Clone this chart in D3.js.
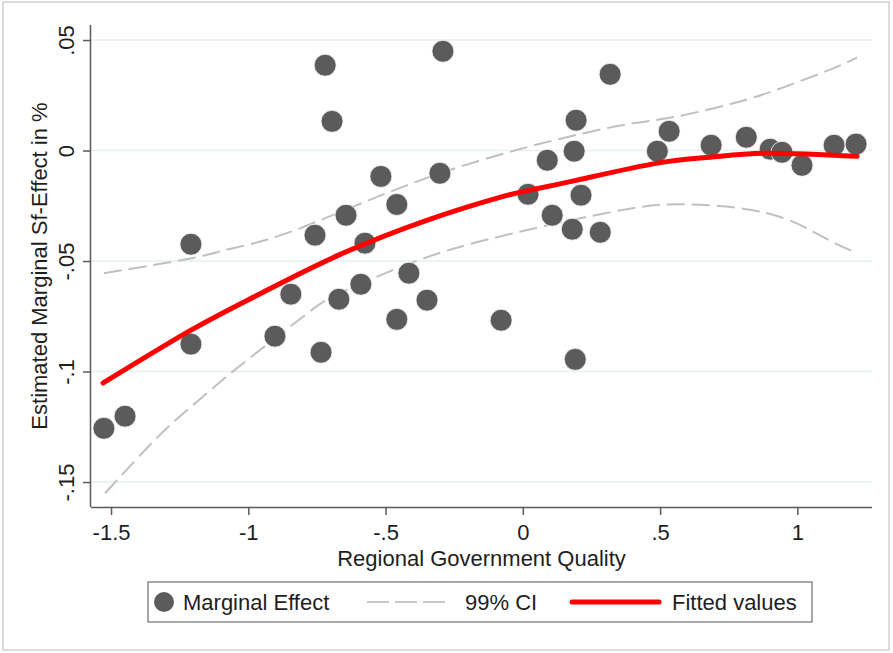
<!DOCTYPE html>
<html>
<head>
<meta charset="utf-8">
<script src="https://cdn.jsdelivr.net/npm/d3@7"></script>
<style>
  html, body { margin: 0; padding: 0; background: #fff; }
  svg { display: block; font-family: "Liberation Sans", Arial, sans-serif; }
</style>
</head>
<body>
<svg id="chart" width="893" height="653"></svg>
<script>
// ---- Data ----
const pointX = [-1.526,-1.449,-1.209,-1.209,-0.903,-0.845,-0.757,-0.735,-0.720,-0.695,
                -0.670,-0.644,-0.590,-0.575,-0.517,-0.459,-0.459,-0.415,-0.349,-0.302,
                -0.291,-0.079,0.019,0.089,0.107,0.180,0.187,0.194,0.191,0.212,
                0.282,0.318,0.490,0.533,0.686,0.814,0.901,0.944,1.017,1.134,1.214];
const pointY = [-0.1257,-0.1202,-0.0424,-0.0876,-0.0840,-0.0650,-0.0383,-0.0913,0.0386,0.0132,
                -0.0673,-0.0293,-0.0605,-0.0419,-0.0117,-0.0244,-0.0764,-0.0555,-0.0677,-0.0103,
                0.0449,-0.0768,-0.0198,-0.0044,-0.0293,-0.0356,-0.0003,0.0137,-0.0945,-0.0202,
                -0.0370,0.0345,-0.0003,0.0087,0.0024,0.0060,0.0006,-0.0008,-0.0067,0.0024,0.0029];

const fitX = [-1.529,-1.212,-0.968,-0.665,-0.337,-0.093,0.027,0.198,0.490,0.683,0.891,1.218];
const fitY = [-0.1052,-0.0815,-0.0655,-0.0470,-0.0310,-0.0215,-0.0179,-0.0134,-0.0057,-0.0030,-0.0012,-0.0026];

const ciUpX = [-1.526,-1.205,-1.056,-0.812,-0.301,0.271,0.526,0.767,0.949,1.131,1.218];
const ciUpY = [-0.0555,-0.0487,-0.0442,-0.0352,-0.0103,0.0092,0.0146,0.0214,0.0286,0.0372,0.0422];

const ciLoX = [-1.522,-1.332,-1.212,-1.092,-0.968,-0.786,-0.665,-0.399,-0.094,0.318,0.584,0.891,1.095,1.218];
const ciLoY = [-0.1551,-0.1299,-0.1163,-0.1036,-0.0913,-0.0738,-0.0645,-0.0505,-0.0392,-0.0279,-0.0243,-0.0284,-0.0392,-0.0465];

const xTicks = [-1.5,-1,-0.5,0,0.5,1];
const xTickLabels = ["-1.5","-1","-.5","0",".5","1"];
const yTicks = [-0.15,-0.1,-0.05,0,0.05];
const yTickLabels = ["-.15","-.1","-.05","0",".05"];

const legendLabels = ["Marginal Effect","99% CI","Fitted values"];
const xTitle = "Regional Government Quality";
const yTitle = "Estimated Marginal Sf-Effect in %";

// ---- Layout ----
const svg = d3.select("#chart");
const L = 91, R = 872, T = 25, B = 507;
const x = d3.scaleLinear().domain([-1.573, 1.272]).range([L, R]);
const y = d3.scaleLinear().domain([-0.1613, 0.0568]).range([B, T]);
const textColor = "#1e1e1e";
const axisColor = "#5a5a5a";
const fs = 22;

// outer frame
svg.append("rect").attr("x", 3).attr("y", 2).attr("width", 886).attr("height", 648)
  .attr("fill", "#fff").attr("stroke", "#cfcfcf").attr("stroke-width", 1.5);

// gridlines
svg.append("g").selectAll("line").data(yTicks).join("line")
  .attr("x1", L).attr("x2", R)
  .attr("y1", d => y(d)).attr("y2", d => y(d))
  .attr("stroke", "#e6eff1").attr("stroke-width", 1.5);

// CI lines
const line = (xs, ys, curve) => d3.line().curve(curve)
  .x((d, i) => x(xs[i])).y((d, i) => y(ys[i]))(xs);
svg.append("path").attr("d", line(ciUpX, ciUpY, d3.curveNatural))
  .attr("fill", "none").attr("stroke", "#c0c0c0").attr("stroke-width", 2)
  .attr("stroke-dasharray", "18,7");
svg.append("path").attr("d", line(ciLoX, ciLoY, d3.curveNatural))
  .attr("fill", "none").attr("stroke", "#c0c0c0").attr("stroke-width", 2)
  .attr("stroke-dasharray", "18,7");

// points
svg.append("g").selectAll("circle").data(pointX).join("circle")
  .attr("cx", (d) => x(d)).attr("cy", (d, i) => y(pointY[i]))
  .attr("r", 11).attr("fill", "#5b5b5b").attr("stroke", "#ffffff").attr("stroke-width", 0.8);

// fitted
svg.append("path").attr("d", line(fitX, fitY, d3.curveNatural))
  .attr("fill", "none").attr("stroke", "#ff0000").attr("stroke-width", 5)
  .attr("stroke-linecap", "round");

// axes
const xAxis = d3.axisBottom(x).tickValues(xTicks).tickSize(8).tickPadding(9)
  .tickFormat((d, i) => xTickLabels[i]);
const gx = svg.append("g").attr("transform", `translate(0,${B})`).call(xAxis);
gx.select(".domain").attr("d", `M${L},0.5H${R}`).attr("stroke", axisColor).attr("stroke-width", 1.5);
gx.selectAll(".tick line").attr("stroke", axisColor).attr("stroke-width", 1.5);
gx.selectAll(".tick text").attr("font-size", fs).attr("fill", textColor)
  .attr("font-family", "Liberation Sans, Arial, sans-serif");

const yAxis = d3.axisLeft(y).tickValues(yTicks).tickSize(8).tickPadding(0)
  .tickFormat((d, i) => yTickLabels[i]);
const gy = svg.append("g").attr("transform", `translate(${L},0)`).call(yAxis);
gy.select(".domain").attr("d", `M-0.5,${T}V${B}`).attr("stroke", axisColor).attr("stroke-width", 1.5);
gy.selectAll(".tick line").attr("stroke", axisColor).attr("stroke-width", 1.5);
gy.selectAll(".tick text").attr("font-size", fs).attr("fill", textColor)
  .attr("font-family", "Liberation Sans, Arial, sans-serif")
  .attr("x", null).attr("dy", null)
  .attr("text-anchor", "middle")
  .attr("transform", "translate(-17,0) rotate(-90)");

// axis titles
svg.append("text").attr("x", (L + R) / 2).attr("y", 566)
  .attr("text-anchor", "middle").attr("font-size", fs).attr("fill", textColor).text(xTitle);
svg.append("text").attr("transform", `translate(47,${(T + B) / 2}) rotate(-90)`)
  .attr("text-anchor", "middle").attr("font-size", fs).attr("fill", textColor).text(yTitle);

// legend
const lg = svg.append("g");
lg.append("rect").attr("x", 148).attr("y", 582).attr("width", 664).attr("height", 40)
  .attr("fill", "#fff").attr("stroke", "#6e6e6e").attr("stroke-width", 1.2);
const ly = 602;
lg.append("circle").attr("cx", 164).attr("cy", ly).attr("r", 10).attr("fill", "#5b5b5b");
lg.append("text").attr("x", 183).attr("y", ly + 8).attr("font-size", fs).attr("fill", textColor).text(legendLabels[0]);
lg.append("line").attr("x1", 367).attr("x2", 451).attr("y1", ly).attr("y2", ly)
  .attr("stroke", "#c8c8c8").attr("stroke-width", 2).attr("stroke-dasharray", "22,6");
lg.append("text").attr("x", 465).attr("y", ly + 8).attr("font-size", fs).attr("fill", textColor).text(legendLabels[1]);
lg.append("line").attr("x1", 572).attr("x2", 659).attr("y1", ly).attr("y2", ly)
  .attr("stroke", "#ff0000").attr("stroke-width", 5).attr("stroke-linecap", "round");
lg.append("text").attr("x", 672).attr("y", ly + 8).attr("font-size", fs).attr("fill", textColor).text(legendLabels[2]);
</script>
</body>
</html>
